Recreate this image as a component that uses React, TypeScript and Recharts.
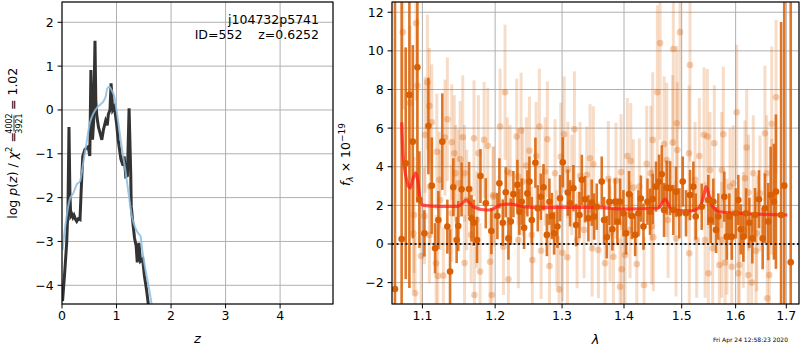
import { ComposedChart, Line, Scatter, ErrorBar, XAxis, YAxis, CartesianGrid, ReferenceLine } from 'recharts'

const FONT = '"DejaVu Sans", sans-serif'

// left panel: log p(z), fit (black) and prior-ish smooth curve (blue)
const pzZ = [0.01,0.05,0.086,0.11,0.128,0.145,0.16,0.18,0.2,0.22,0.25,0.27,0.3,0.33,0.35,0.38,0.42,0.45,0.48,0.51,0.53,0.56,0.58,0.605,0.62,0.64,0.67,0.69,0.73,0.76,0.8,0.83,0.85,0.88,0.9,0.93,0.96,1.0,1.03,1.08,1.12,1.14,1.17,1.2,1.23,1.26,1.27,1.3,1.33,1.36,1.38,1.41,1.44,1.48,1.51,1.55,1.58,1.62]
const pzLog = [-4.36,-3.7,-3.03,-2.2,-0.39,-1.9,-2.42,-2.38,-2.45,-2.4,-2.5,-2.54,-2.48,-2.5,-1.89,-1.06,-0.9,-0.87,-0.84,-1.05,0.91,-0.68,-0.26,1.58,0.2,-0.15,-0.4,-0.49,-0.68,-0.45,-0.25,-0.35,-0.1,0,0.61,0,0.07,-0.3,-0.68,-1.12,-1.27,-1.06,-1.52,-1.5,0.04,-1.43,-2.2,-2.58,-2.92,-3.1,-3.48,-3.03,-3.45,-3.4,-3.77,-4.1,-4.4,-4.8]
const priorZ = [0.01,0.05,0.086,0.14,0.21,0.27,0.33,0.39,0.45,0.51,0.58,0.64,0.7,0.76,0.8,0.83,0.87,0.91,0.96,1.0,1.05,1.1,1.16,1.22,1.28,1.35,1.39,1.44,1.47,1.53,1.6,1.64,1.7]
const priorLog = [-3.2,-2.75,-2.42,-2.05,-1.89,-1.7,-1.63,-1.2,-0.75,-0.3,-0.07,0.05,0.12,0.2,0.3,0.49,0.53,0.45,0.3,0,-0.45,-0.9,-1.36,-1.89,-2.42,-2.7,-2.8,-2.88,-3.18,-3.64,-4.1,-4.4,-4.9]
const zTicks = [0,1,2,3,4]
const pzTicks = [-4,-3,-2,-1,0,1,2]

// right panel: spectrum
const darkLam = [
  1.0645,1.0730,1.0782,1.0830,1.0874,1.0934,1.0960,1.1026,1.1079,1.1124,
  1.1168,1.1212,1.1265,1.1333,1.1370,1.1414,1.1460,1.1482,1.1528,1.1632,
  1.1665,1.1697,1.1743,1.1791,1.1866,1.1946,1.2032,1.2061,1.2110,1.2153,
  1.2192,1.2227,1.2265,1.2324,1.2353,1.2388,1.2423,1.2472,1.2502,1.2538,
  1.2592,1.2628,1.2674,1.2714,1.2766,1.2805,1.2842,1.2877,1.2928,1.2969,
  1.3011,1.3090,1.3125,1.3178,1.3220,1.3273,1.3311,1.3363,1.3416,1.3470,
  1.3508,1.3551,1.3632,1.3670,1.3714,1.3757,1.3806,1.3851,1.3890,1.3934,
  1.3990,1.4035,1.4085,1.4131,1.4188,1.4244,1.4285,1.4330,1.4399,1.4443,
  1.4490,1.4547,1.4600,1.4647,1.4687,1.4734,1.4793,1.4851,1.4899,1.4958,
  1.5019,1.5078,1.5150,1.5211,1.5254,1.5364,1.5486,1.5530,1.5579,1.5629,
  1.5672,1.5785,1.5831,1.5880,1.5926,1.6003,1.6052,1.6098,1.6149,1.6201,
  1.6265,1.6323,1.6375,1.6453,1.6526,1.6571,1.6636,1.6684,1.6750,1.6790,
  1.6894,1.6958,1.7090]
const darkFlux = [
  -2.33,0.26,4.18,7.72,5.3,9.15,2.3,0.55,6.11,3.02,
  -0.22,1.24,5.3,0.9,-1.43,2.94,0.21,0.93,2.83,2.85,
  1.33,1.1,0.21,3.52,2.11,0.67,1.45,3.14,1.1,2.68,
  0.29,1.16,2.58,3.06,1.67,2.19,0.84,2.62,3.23,1.24,
  4.21,1.85,2.45,2.94,0.47,2.19,1.45,0.55,0.9,2.37,
  4.23,2.66,2.11,2.89,0.98,1.5,3.32,2.32,1.33,2.14,
  1.42,1.93,3.23,1.24,0.35,2.18,0.76,2.19,1.16,2.19,
  1.59,0.55,2.58,1.45,0.47,1.59,2.35,0.9,2.19,1.67,
  2.33,2.97,3.23,3.61,1.76,2.92,2.89,1.76,2.71,1.59,
  3.23,1.59,2.54,2.97,1.42,1.93,2.28,1.24,2.19,0.73,
  1.42,2.45,0.38,1.42,0.38,1.59,2.28,0.76,0.38,1.59,
  1.1,0.29,1.5,2.32,0.29,1.85,1.16,2.54,2.19,2.71,
  1.5,3.02,-0.95]
const darkErr = [
  20,20,6,10,5,7,2.5,1.2,2.5,2.5,
  1.3,1.5,2.5,1.4,2.2,1.5,1.2,1.3,1.4,1.4,
  1.2,1.2,1.2,1.4,1.3,1.2,1.2,1.3,1.2,1.3,
  1.1,1.2,1.2,1.3,1.2,1.2,1.1,1.2,1.3,1.2,
  1.3,1.2,1.2,1.2,1.1,1.2,1.2,1.1,1.1,1.2,
  1.3,1.2,1.2,1.2,1.1,1.2,1.3,1.2,1.2,1.2,
  1.2,1.2,1.3,1.2,1.1,1.2,1.1,1.2,1.2,1.2,
  1.2,1.1,1.2,1.2,1.1,1.2,1.2,1.2,1.2,1.2,
  1.3,1.3,1.4,1.5,1.4,1.4,1.4,1.3,1.3,1.3,
  1.3,1.2,1.3,1.3,1.2,1.2,1.3,1.2,1.2,1.2,
  1.2,1.3,1.2,1.2,1.2,1.3,1.3,1.3,1.3,1.3,
  1.3,1.3,1.4,1.5,1.6,1.8,2,2.5,3,4,
  10,12,20]

const lightLam = [
  1.0745,1.0917,1.0839,1.0934,1.1066,1.1035,1.1092,1.1124,1.1191,1.0891,
  1.0882,1.0983,1.0904,1.1026,1.1092,1.1181,1.1203,1.1279,1.1225,1.1301,
  1.1333,1.1393,1.1428,1.1507,1.1544,1.1700,1.1843,1.1894,1.1761,1.1445,
  1.1569,1.1393,1.1660,1.1705,1.1786,1.1952,1.1928,1.1971,1.1569,
  1.2143,1.2071,1.2192,1.2378,1.2314,1.2652,1.2774,1.2502,1.2603,1.2457,
  1.2334,1.2217,1.2980,1.3032,1.3194,1.3090,1.3443,1.3390,1.2546,1.2678,
  1.2806,1.2954,1.3006,1.3084,1.3476,1.2338,1.2119,1.3236,
  1.4617,1.4970,1.4851,1.5150,1.4570,1.4910,1.4489,1.4687,1.4840,1.4922,
  1.5132,1.4056,1.4113,1.4385,1.3496,1.3740,1.3866,1.3950,1.4157,1.4259,
  1.3686,1.3823,1.3962,1.3934,1.4340,1.4216,1.4018,1.4500,1.4758,1.4899,
  1.5137,1.3578,
  1.6020,1.6792,1.6705,1.6571,1.5407,1.5468,1.5766,1.5597,1.6213,1.5320,
  1.5517,1.5736,1.6180,1.5955,1.6248,1.6473,1.5486,1.5692,1.5799,1.5926,
  1.6071,1.6052,1.6245,1.6310,1.6657,1.6617,1.5567,1.5426,1.6394,1.5835,
  1.2177,1.2403,1.2739,1.2892,1.3283,1.3152,1.1975,1.2538,1.2918,1.3347,
  1.4455,1.4735,1.4472,1.3768,1.4101,1.1484,1.1599,1.1235,1.1740,1.1102,
  1.5241,1.5893,1.6342,1.6606,1.6706,1.5272,1.6148,1.6409,1.5736]
const lightFlux = [
  10.97,11.43,7.3,8.2,8.38,5.65,7.15,6.3,4.78,1.5,
  0.55,-0.62,-2.55,1.45,0.47,-1.0,-1.66,-1.64,3.32,5.51,
  6.46,5.27,4.7,4.4,5.53,5.47,5.39,5.09,4.7,3.66,
  3.66,1.59,0.47,-2.64,-1.43,-2.64,-0.92,2.54,-0.99,
  7.86,6.08,-1.83,5.87,5.56,6.08,5.42,4.83,4.56,4.06,
  3.49,3.66,4.52,5.68,5.94,3.83,4.44,3.58,-0.83,-0.35,
  -1.14,-2.35,-0.45,-0.69,-0.22,0.21,-0.14,0.21,
  10.4,10.97,10.1,9.27,7.86,6.25,5.39,5.18,5.25,4.87,
  4.7,4.56,4.3,4.15,4.13,3.37,3.28,3.72,2.92,2.97,
  -1.0,-0.66,-1.31,-2.21,-2.12,-1.04,-0.57,0.35,1.24,0.28,
  -0.48,-0.31,
  6.82,7.6,6.22,5.73,5.65,5.56,5.68,5.22,4.99,4.56,
  3.83,3.83,3.4,3.14,2.66,2.62,-1.52,-1.09,-0.97,-1.18,
  -1.09,-1.52,-1.61,-2.0,-1.61,-2.81,-0.22,0.21,-0.35,0.38,
  3.75,3.23,3.75,3.66,3.52,3.06,2.45,0.47,0.29,0.73,
  3.66,4.35,0.9,0.55,0.73,3.14,2.28,2.28,1.24,2.97,
  3.32,2.97,3.66,3.66,2.45,0.21,0.73,0.55,0.21]
const lightErr = [
  4,4,4,3.5,3.5,3,3,3,3,3,
  3,3,3,2.5,2.5,2.5,2.5,2.5,2.5,3,
  3.2,3,3,3,3.2,3,3,3,3,2.5,
  2.5,2.5,2.5,2.5,2.5,2.5,2.5,2.5,2.5,
  3.5,3,2.5,3,3,3,3,2.8,2.8,2.5,
  2.5,2.5,2.8,3,3,2.5,2.8,2.5,2.5,2.5,
  2.5,2.5,2.5,2.5,2.5,2.5,2.5,2.5,
  5,5,5,5,4.5,4,3.5,3.5,3.5,3.5,
  3.5,3,3,3,3,3,3,3,2.5,2.5,
  2.5,2.5,2.5,2.5,2.5,2.5,2.5,2.8,3,3,
  3,2.5,
  3.5,4,4,3.5,3.5,3.5,3.5,3,3,3,
  3,3,3,3,3,3,3,3,3,3,
  3,3,3,3,3,3.5,3,3,3,3,
  2.8,2.8,2.8,2.8,2.8,2.6,2.6,2.5,2.5,2.5,
  3.5,4,3,2.5,2.5,2.8,2.6,2.6,2.5,3,
  3,3,3,3,3,3,3,3,3]

const modelLam = [1.0731,1.0748,1.0759,1.08,1.0839,1.0878,1.0913,1.0943,1.097,1.1013,1.1235,1.1464,1.1523,1.1592,1.1646,1.1686,1.1884,1.1928,1.2071,1.2217,1.2413,1.2663,1.3181,1.3534,1.3995,1.4575,1.4617,1.4704,1.4757,1.4793,1.497,1.515,1.5333,1.5408,1.5445,1.5501,1.557,1.5693,1.6084,1.7022]
const modelFlux = [6.3,4.6,4.2,3.2,2.9,3.4,3.68,3.2,2.28,2.0,1.95,1.95,2.05,2.28,2.1,1.93,1.76,1.76,2.02,2.07,1.93,1.88,1.9,1.9,1.81,1.85,1.95,2.32,2.1,1.86,1.73,1.71,1.93,2.6,2.97,2.5,1.93,1.67,1.59,1.5]
const lamTicks = [1.1,1.2,1.3,1.4,1.5,1.6,1.7]
const fluxTicks = [-2,0,2,4,6,8,10,12]

const pzData = pzZ.map((z,i)=>({ z, v:pzLog[i] }))
const priorData = priorZ.map((z,i)=>({ z, v:priorLog[i] }))
const darkData = darkLam.map((lam,i)=>({ lam, f:darkFlux[i], err:darkErr[i] }))
const lightData = lightLam.map((lam,i)=>({ lam, f:lightFlux[i], err:lightErr[i] }))
const modelData = modelLam.map((lam,i)=>({ lam, f:modelFlux[i] }))

const minus = (v:number) => (v<0 ? '\u2212' : '') + Math.abs(v)
const tickStyle = { fill:'#000', fontSize:12.5, fontFamily:FONT }
const ORANGE = 'rgb(217,95,2)'

const darkDot = (p:any) => <circle cx={p.cx} cy={p.cy} r={3.3} fill={ORANGE} />
const lightDot = (p:any) => <circle cx={p.cx} cy={p.cy} r={3.3} fill="rgba(217,95,2,0.3)" />

const LAM_DOMAIN = [1.0607, 1.726]
const FLUX_DOMAIN = [-3.107, 12.53]
const RIGHT_M = { top:2, right:1, bottom:0, left:0 }

// right panel axes; `bare` hides ticks so the series layer keeps the same plot box
function rightAxes(bare: boolean) {
  return [
    <XAxis key="x" dataKey="lam" type="number" scale="log" domain={LAM_DOMAIN} ticks={lamTicks} allowDataOverflow interval={0}
      tickFormatter={(v:number)=>v.toFixed(1)} axisLine={false} tickSize={4.4} tickMargin={3}
      tick={bare ? false : tickStyle} tickLine={bare ? false : { stroke:'#000' }} height={46} />,
    <YAxis key="y" dataKey="f" type="number" domain={FLUX_DOMAIN} ticks={fluxTicks} allowDataOverflow interval={0}
      tickFormatter={minus} axisLine={false} tickSize={4.4} tickMargin={4}
      tick={bare ? false : tickStyle} tickLine={bare ? false : { stroke:'#000' }} width={52} />,
  ]
}

export default function App() {
  return (
    <div style={{ position:'absolute', left:0, top:0, width:800, height:350, background:'#fff', fontFamily:FONT }}>
      <div style={{ position:'absolute', left:0, top:0 }}>
        <ComposedChart width={340} height={350} margin={{ top:2, right:7, bottom:0, left:0 }}>
          <CartesianGrid stroke="#b0b0b0" strokeWidth={1} />
          <XAxis dataKey="z" type="number" domain={[0,4.97]} ticks={zTicks} allowDataOverflow interval={0}
            axisLine={false} tickSize={4.4} tickMargin={3} tick={tickStyle} tickLine={{ stroke:'#000' }} height={46} />
          <YAxis type="number" domain={[-4.427,2.463]} ticks={pzTicks} allowDataOverflow interval={0} tickFormatter={minus}
            axisLine={false} tickSize={4.4} tickMargin={4} tick={tickStyle} tickLine={{ stroke:'#000' }} width={62} />
          <Line data={pzData} dataKey="v" type="linear" stroke="#333" strokeWidth={3} dot={false} isAnimationActive={false} />
          <Line data={priorData} dataKey="v" type="monotone" stroke="#8dbde0" strokeOpacity={0.85} strokeWidth={2} dot={false} isAnimationActive={false} />
        </ComposedChart>
      </div>
      <div style={{ position:'absolute', left:340, top:0 }}>
        <ComposedChart width={460} height={350} margin={RIGHT_M}>
          <CartesianGrid stroke="#b0b0b0" strokeWidth={1} />
          {rightAxes(false)}
        </ComposedChart>
      </div>
      {/* series layer, cropped to the plot box */}
      <div style={{ position:'absolute', left:392, top:2, width:407, height:302, overflow:'hidden' }}>
        <div style={{ position:'absolute', left:-52, top:-2 }}>
          <ComposedChart width={460} height={350} margin={RIGHT_M}>
            {rightAxes(true)}
            <Scatter data={lightData} shape={lightDot} isAnimationActive={false}>
              <ErrorBar dataKey="err" direction="y" width={0} stroke="rgba(217,95,2,0.22)" strokeWidth={3} />
            </Scatter>
            <Scatter data={darkData} shape={darkDot} isAnimationActive={false}>
              <ErrorBar dataKey="err" direction="y" width={0} stroke="rgba(217,95,2,0.85)" strokeWidth={2.6} />
            </Scatter>
            <Line data={modelData} dataKey="f" type="monotone" stroke="#ff1a1a" strokeOpacity={0.72} strokeWidth={3.2} dot={false} isAnimationActive={false} />
            <ReferenceLine y={0} stroke="#222" strokeWidth={1.8} strokeDasharray="2 2.5" />
          </ComposedChart>
        </div>
      </div>
      <svg width={800} height={350} style={{ position:'absolute', left:0, top:0, pointerEvents:'none' }} fontFamily={FONT}>
        <rect x={62} y={2} width={271} height={302} fill="none" stroke="#000" strokeWidth={1.1} />
        <rect x={392} y={2} width={407} height={302} fill="none" stroke="#000" strokeWidth={1.1} />
        <text x={319} y={24} textAnchor="end" fontSize={12.5}>j104732p5741</text>
        <text x={319} y={39} textAnchor="end" fontSize={12.5} style={{ whiteSpace:'pre' }}>ID=552    z=0.6252</text>
        <g transform="translate(16.5,154) rotate(-90)" fontSize={12.5}>
          <text x={22} y={0} textAnchor="end">log <tspan fontStyle="italic">p</tspan>(<tspan fontStyle="italic">z</tspan>) / <tspan fontStyle="italic">χ</tspan><tspan dy={-5} fontSize={8.5}>2</tspan><tspan dy={5}> =</tspan></text>
          <text x={30.5} y={-4.5} textAnchor="middle" fontSize={8}>4002</text>
          <line x1={22.5} x2={38.5} y1={-2.5} y2={-2.5} stroke="#000" strokeWidth={0.8} />
          <text x={30.5} y={5} textAnchor="middle" fontSize={8}>3921</text>
          <text x={44} y={0} textAnchor="start">= 1.02</text>
        </g>
        <g transform="translate(350,154.5) rotate(-90)" fontSize={12.5}>
          <text x={0} y={0} textAnchor="middle"><tspan fontStyle="italic">f</tspan><tspan dy={3} fontSize={9} fontStyle="italic">λ</tspan><tspan dy={-3}> × 10</tspan><tspan dy={-5} fontSize={9}>−19</tspan></text>
        </g>
        <text x={197.5} y={343} textAnchor="middle" fontSize={13} fontStyle="italic">z</text>
        <text x={595.5} y={344} textAnchor="middle" fontSize={13} fontStyle="italic">λ</text>
        <text x={788} y={342} textAnchor="end" fontSize={6}>Fri Apr 24 12:58:23 2020</text>
      </svg>
    </div>
  )
}
